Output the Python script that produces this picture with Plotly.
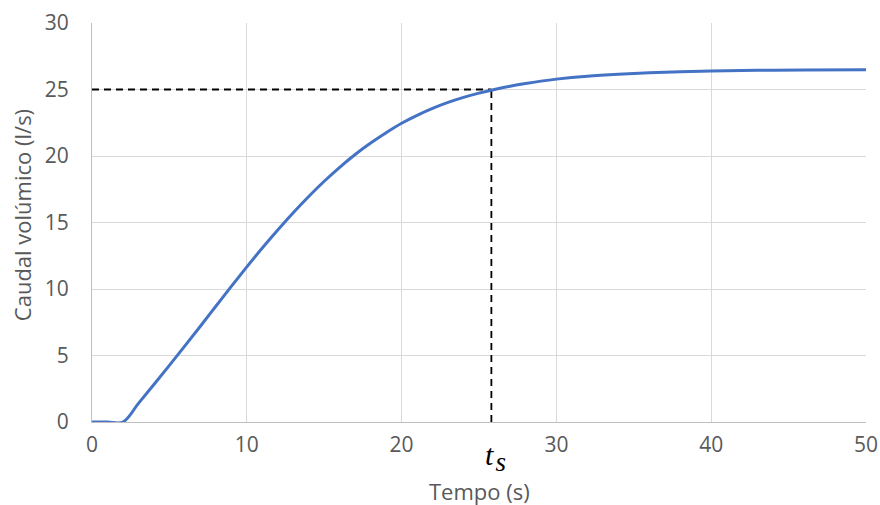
import plotly.graph_objects as go

# Data
tempo = [0, 1, 2, 3, 4, 5, 6, 7, 8, 9, 10, 11, 12, 13, 14, 15, 16, 17, 18, 19,
         20, 21, 22, 23, 24, 25, 26, 27, 28, 29, 30, 32, 34, 36, 38, 40, 43, 46, 50]
caudal = [0, 0, 0, 1.4, 2.82, 4.26, 5.72, 7.2, 8.7, 10.2, 11.66, 13.08, 14.44, 15.74,
          16.96, 18.1, 19.15, 20.11, 20.97, 21.75, 22.46, 23.06, 23.58, 24.03, 24.41,
          24.73, 25.0, 25.24, 25.45, 25.63, 25.78, 26.0, 26.15, 26.26, 26.34, 26.39,
          26.44, 26.47, 26.49]
t_s = 25.8
y_ref = 25
x_ticks = [0, 10, 20, 30, 40, 50]
y_ticks = [0, 5, 10, 15, 20, 25, 30]

font_main = "'Open Sans', Lato, sans-serif"
gray = "#595959"
serif = "'Liberation Serif', 'DejaVu Serif', serif"

fig = go.Figure()
fig.add_trace(go.Scatter(x=[0, t_s], y=[y_ref, y_ref], mode="lines",
                         line=dict(color="black", width=1.8, dash="7px,5px"),
                         hoverinfo="skip", showlegend=False))
fig.add_trace(go.Scatter(x=[t_s, t_s], y=[0, y_ref], mode="lines",
                         line=dict(color="black", width=1.8, dash="7px,5px"),
                         hoverinfo="skip", showlegend=False))
fig.add_trace(go.Scatter(x=tempo, y=caudal, mode="lines",
                         line=dict(color="#4472C4", width=3, shape="spline", smoothing=1.0),
                         showlegend=False))

# t_s label below the axis (single text with subscript)
fig.add_annotation(x=t_s, y=0, xref="x", yref="y", xshift=4, yshift=-35,
                   text="<i>t<sub><span style='font-size:27px'>\u200as</span></sub></i>",
                   showarrow=False,
                   font=dict(family=serif, size=30, color="black"))

# axis titles
fig.add_annotation(x=25, y=0, xref="x", yref="y", yshift=-69,
                   text="Tempo (s)", showarrow=False, borderpad=0,
                   font=dict(family=font_main, size=22, color=gray))
fig.add_annotation(x=0, y=15.55, xref="x", yref="y", xshift=-70,
                   text="Caudal volúmico (l/s)", textangle=-90, showarrow=False,
                   font=dict(family=font_main, size=22, color=gray))

fig.update_layout(
    width=880, height=505,
    margin=dict(l=92, r=14, t=23, b=83, autoexpand=False),
    paper_bgcolor="white", plot_bgcolor="white",
    font=dict(family=font_main, size=21, color=gray),
    xaxis=dict(range=[0, 50], tickvals=x_ticks, showgrid=True, gridcolor="#d9d9d9",
               gridwidth=1, zeroline=False, showline=True, linecolor="#bfbfbf",
               linewidth=1, ticks="", tickfont=dict(size=21, color=gray),
               automargin=False, ticklabelstandoff=4),
    yaxis=dict(range=[0, 30], tickvals=y_ticks, showgrid=True, gridcolor="#d9d9d9",
               gridwidth=1, zeroline=False, showline=True, linecolor="#bfbfbf",
               linewidth=1, ticks="", tickfont=dict(size=21, color=gray),
               automargin=False, ticklabelstandoff=18),
)

# remove the default 8px page margin so the figure fills the 880x505 window exactly
fig.write_html("out.html", config={"displayModeBar": False},
               post_script="document.body.style.margin='0';document.documentElement.style.overflow='hidden';")
